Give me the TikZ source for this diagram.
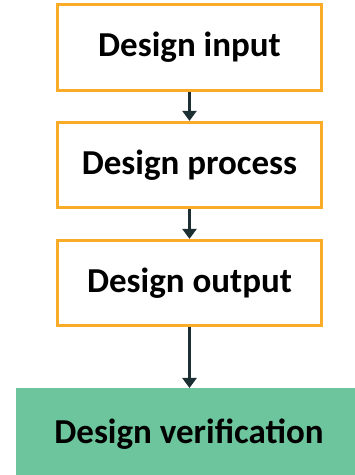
\documentclass[tikz,border=0pt]{standalone}
\usepackage{fontspec}
\setmainfont{Carlito}
\usetikzlibrary{arrows.meta}
\definecolor{boxorange}{RGB}{250,172,40}
\definecolor{verifygreen}{RGB}{108,197,156}
\definecolor{arrowdark}{RGB}{28,48,52}
\tikzset{
  labelfont/.style={font=\bfseries\fontsize{35}{40}\selectfont, text=black},
  stagebox/.style={draw=boxorange, line width=3.2pt, fill=white, inner sep=0pt, labelfont},
  verifybox/.style={fill=verifygreen, draw=none, inner sep=0pt},
  flow/.style={draw=arrowdark, line width=2.8pt, -{Triangle[length=10pt,width=14pt]}}
}
\begin{document}
\begin{tikzpicture}[x=1pt,y=1pt]
  \useasboundingbox (0,0) rectangle (355,475);
  % process stages
  \node[stagebox, minimum width=264pt, minimum height=86pt] (input) at (189.5,427.5) {Design input};
  \node[stagebox, minimum width=264pt, minimum height=85pt] (process) at (189.5,310) {Design process};
  \node[stagebox, minimum width=264pt, minimum height=85pt] (output) at (189.5,192) {Design output};
  % verification step, running past the right edge
  \node[verifybox, minimum width=345pt, minimum height=90pt, anchor=north west] (verify) at (16,87) {};
  \node[labelfont] (verifytext) at (189,41) {Design verification};
  % connectors
  \draw[flow] (input.south) -- (process.north);
  \draw[flow] (process.south) -- (output.north);
  \draw[flow] (output.south) -- (verify.north -| output.south);
\end{tikzpicture}
\end{document}
